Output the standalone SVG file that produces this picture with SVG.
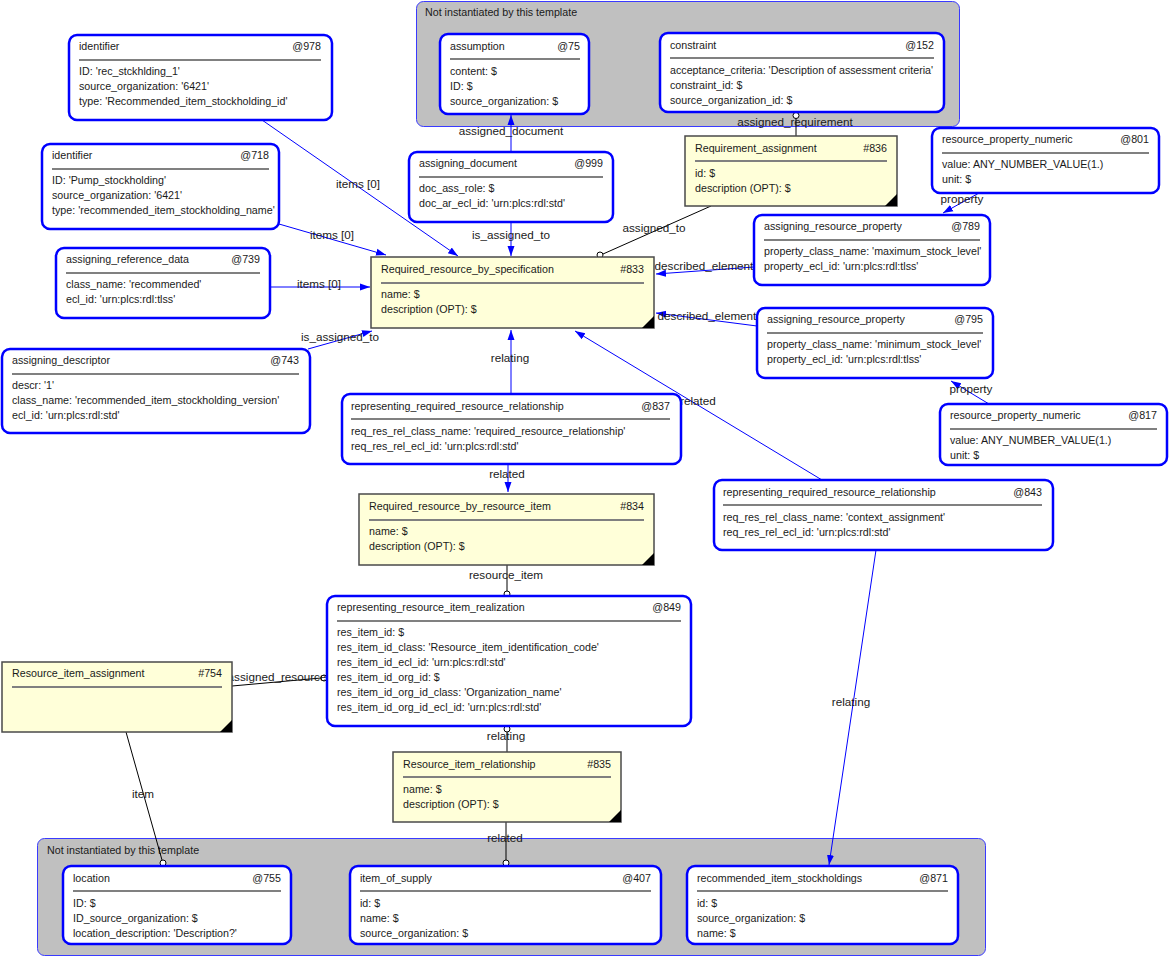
<svg xmlns="http://www.w3.org/2000/svg" width="1169" height="957" viewBox="0 0 1169 957">
<style>
text{font-family:"Liberation Sans",Arial,sans-serif;font-size:10.7px;fill:#1a1a1a}
.lbl{font-size:11.7px;text-anchor:middle}
.r{text-anchor:end}
.grp{fill:#c0c0c0;stroke:#3a3aff;stroke-width:1}
.bn{fill:#fff;stroke:#0000ff;stroke-width:2.5}
.yn{fill:#ffffd9;stroke:#4a4a4a;stroke-width:1.5}
.sep{stroke:#808080;stroke-width:2}
.tri{fill:#000}
.bl{stroke:#0000ff;stroke-width:1;fill:none}
.kl{stroke:#000;stroke-width:1;fill:none}
.circ{fill:#fff;stroke:#000;stroke-width:1}
</style>
<defs>
<marker id="arr" viewBox="0 0 10 10" refX="10" refY="5" markerWidth="10" markerHeight="10" markerUnits="userSpaceOnUse" orient="auto">
<path d="M0,1.5 L10,5 L0,8.5 z" fill="#0000ff"/>
</marker>
</defs>

<g id="group-top">
<rect class="grp" x="416.5" y="1.5" width="543" height="125" rx="7"/>
<text x="425" y="16">Not instantiated by this template</text>
</g>
<g id="group-bottom">
<rect class="grp" x="37.5" y="838.5" width="948" height="117" rx="7"/>
<text x="47" y="854">Not instantiated by this template</text>
</g>

<g id="connectors">
<line class="bl" x1="262" y1="120" x2="458" y2="256" marker-end="url(#arr)"/>
<line class="bl" x1="279" y1="224" x2="386" y2="255" marker-end="url(#arr)"/>
<line class="bl" x1="270" y1="287" x2="370" y2="287" marker-end="url(#arr)"/>
<line class="bl" x1="308" y1="349" x2="372" y2="331" marker-end="url(#arr)"/>
<line class="bl" x1="511" y1="152" x2="511" y2="115" marker-end="url(#arr)"/>
<line class="bl" x1="511" y1="222" x2="511" y2="256" marker-end="url(#arr)"/>
<line class="kl" x1="711" y1="206" x2="603" y2="254"/>
<circle class="circ" cx="600" cy="255" r="3"/>
<line class="kl" x1="796" y1="136" x2="796" y2="118"/>
<circle class="circ" cx="796" cy="115.5" r="3"/>
<line class="bl" x1="754" y1="267" x2="656" y2="274" marker-end="url(#arr)"/>
<line class="bl" x1="757" y1="326" x2="656" y2="313" marker-end="url(#arr)"/>
<line class="bl" x1="979" y1="193" x2="943" y2="213" marker-end="url(#arr)"/>
<line class="bl" x1="989" y1="404" x2="951" y2="381" marker-end="url(#arr)"/>
<line class="bl" x1="511" y1="394" x2="511" y2="330" marker-end="url(#arr)"/>
<line class="bl" x1="508" y1="464" x2="508" y2="492" marker-end="url(#arr)"/>
<line class="bl" x1="822" y1="480" x2="575" y2="331" marker-end="url(#arr)"/>
<line class="bl" x1="876" y1="550" x2="829" y2="865" marker-end="url(#arr)"/>
<line class="kl" x1="507" y1="565" x2="507" y2="591"/>
<circle class="circ" cx="507" cy="594" r="3"/>
<line class="kl" x1="232" y1="686" x2="321" y2="678"/>
<circle class="circ" cx="324" cy="678" r="3"/>
<line class="kl" x1="507" y1="752" x2="507" y2="732"/>
<circle class="circ" cx="507" cy="729" r="3"/>
<line class="kl" x1="506" y1="822" x2="506" y2="860"/>
<circle class="circ" cx="506" cy="863" r="3"/>
<line class="kl" x1="126" y1="732" x2="162" y2="860"/>
<circle class="circ" cx="163" cy="863" r="3"/>
<text class="lbl" x="358" y="188">items [0]</text>
<text class="lbl" x="332" y="239">items [0]</text>
<text class="lbl" x="319" y="288">items [0]</text>
<text class="lbl" x="340" y="341">is_assigned_to</text>
<text class="lbl" x="511" y="135">assigned_document</text>
<text class="lbl" x="511" y="239">is_assigned_to</text>
<text class="lbl" x="654" y="232">assigned_to</text>
<text class="lbl" x="795" y="126">assigned_requirement</text>
<text class="lbl" x="704" y="270">described_element</text>
<text class="lbl" x="707" y="320">described_element</text>
<text class="lbl" x="962" y="203">property</text>
<text class="lbl" x="971" y="393">property</text>
<text class="lbl" x="510" y="362">relating</text>
<text class="lbl" x="507" y="478">related</text>
<text class="lbl" x="698" y="405">related</text>
<text class="lbl" x="851" y="706">relating</text>
<text class="lbl" x="506" y="579">resource_item</text>
<text class="lbl" x="277" y="681">assigned_resource</text>
<text class="lbl" x="506" y="740">relating</text>
<text class="lbl" x="505" y="842">related</text>
<text class="lbl" x="143" y="798">item</text>
</g>

<g id="n75">
<rect class="bn" x="440" y="34" width="149" height="80" rx="8"/>
<text x="450" y="50">assumption</text><text class="r" x="580" y="50">@75</text>
<line class="sep" x1="450" y1="59" x2="580" y2="59"/>
<text x="450" y="75">content: $</text>
<text x="450" y="90">ID: $</text>
<text x="450" y="105">source_organization: $</text>
</g>
<g id="n152">
<rect class="bn" x="660" y="33" width="284" height="79" rx="8"/>
<text x="670" y="49">constraint</text><text class="r" x="934" y="49">@152</text>
<line class="sep" x1="670" y1="58" x2="934" y2="58"/>
<text x="670" y="74">acceptance_criteria: 'Description of assessment criteria'</text>
<text x="670" y="89">constraint_id: $</text>
<text x="670" y="104">source_organization_id: $</text>
</g>
<g id="n978">
<rect class="bn" x="69" y="35" width="263" height="85" rx="8"/>
<text x="79" y="50">identifier</text><text class="r" x="321" y="50">@978</text>
<line class="sep" x1="79" y1="60" x2="321" y2="60"/>
<text x="79" y="75">ID: 'rec_stckhlding_1'</text>
<text x="79" y="90">source_organization: '6421'</text>
<text x="79" y="105">type: 'Recommended_item_stockholding_id'</text>
</g>
<g id="n718">
<rect class="bn" x="42" y="144" width="237" height="85" rx="8"/>
<text x="52" y="159">identifier</text><text class="r" x="269" y="159">@718</text>
<line class="sep" x1="52" y1="169" x2="269" y2="169"/>
<text x="52" y="184">ID: 'Pump_stockholding'</text>
<text x="52" y="199">source_organization: '6421'</text>
<text x="52" y="214">type: 'recommended_item_stockholding_name'</text>
</g>
<g id="n739">
<rect class="bn" x="56" y="248" width="214" height="70" rx="8"/>
<text x="66" y="263">assigning_reference_data</text><text class="r" x="260" y="263">@739</text>
<line class="sep" x1="66" y1="273" x2="260" y2="273"/>
<text x="66" y="288">class_name: 'recommended'</text>
<text x="66" y="303">ecl_id: 'urn:plcs:rdl:tlss'</text>
</g>
<g id="n743">
<rect class="bn" x="2" y="349" width="308" height="84" rx="8"/>
<text x="12" y="364">assigning_descriptor</text><text class="r" x="299" y="364">@743</text>
<line class="sep" x1="12" y1="374" x2="299" y2="374"/>
<text x="12" y="389">descr: '1'</text>
<text x="12" y="404">class_name: 'recommended_item_stockholding_version'</text>
<text x="12" y="419">ecl_id: 'urn:plcs:rdl:std'</text>
</g>
<g id="n999">
<rect class="bn" x="409" y="152" width="204" height="70" rx="8"/>
<text x="419" y="167">assigning_document</text><text class="r" x="603" y="167">@999</text>
<line class="sep" x1="419" y1="177" x2="603" y2="177"/>
<text x="419" y="192">doc_ass_role: $</text>
<text x="419" y="207">doc_ar_ecl_id: 'urn:plcs:rdl:std'</text>
</g>
<g id="n836">
<rect class="yn" x="685" y="136" width="212" height="70"/>
<text x="695" y="152">Requirement_assignment</text><text class="r" x="887" y="152">#836</text>
<line class="sep" x1="695" y1="161" x2="887" y2="161"/>
<text x="695" y="177">id: $</text>
<text x="695" y="192">description (OPT): $</text>
<polygon class="tri" points="897,194 897,206 885,206"/>
</g>
<g id="n801">
<rect class="bn" x="932" y="128" width="227" height="65" rx="8"/>
<text x="942" y="143">resource_property_numeric</text><text class="r" x="1149" y="143">@801</text>
<line class="sep" x1="942" y1="153" x2="1149" y2="153"/>
<text x="942" y="168">value: ANY_NUMBER_VALUE(1.)</text>
<text x="942" y="183">unit: $</text>
</g>
<g id="n789">
<rect class="bn" x="754" y="215" width="236" height="70" rx="8"/>
<text x="764" y="230">assigning_resource_property</text><text class="r" x="980" y="230">@789</text>
<line class="sep" x1="764" y1="240" x2="980" y2="240"/>
<text x="764" y="255">property_class_name: 'maximum_stock_level'</text>
<text x="764" y="270">property_ecl_id: 'urn:plcs:rdl:tlss'</text>
</g>
<g id="n833">
<rect class="yn" x="371" y="257" width="283" height="71"/>
<text x="381" y="273">Required_resource_by_specification</text><text class="r" x="644" y="273">#833</text>
<line class="sep" x1="381" y1="283" x2="644" y2="283"/>
<text x="381" y="298">name: $</text>
<text x="381" y="313">description (OPT): $</text>
<polygon class="tri" points="654,316 654,328 642,328"/>
</g>
<g id="n795">
<rect class="bn" x="757" y="308" width="236" height="70" rx="8"/>
<text x="767" y="323">assigning_resource_property</text><text class="r" x="983" y="323">@795</text>
<line class="sep" x1="767" y1="333" x2="983" y2="333"/>
<text x="767" y="348">property_class_name: 'minimum_stock_level'</text>
<text x="767" y="363">property_ecl_id: 'urn:plcs:rdl:tlss'</text>
</g>
<g id="n817">
<rect class="bn" x="940" y="404" width="227" height="61" rx="8"/>
<text x="950" y="419">resource_property_numeric</text><text class="r" x="1157" y="419">@817</text>
<line class="sep" x1="950" y1="429" x2="1157" y2="429"/>
<text x="950" y="444">value: ANY_NUMBER_VALUE(1.)</text>
<text x="950" y="459">unit: $</text>
</g>
<g id="n837">
<rect class="bn" x="342" y="394" width="339" height="70" rx="8"/>
<text x="351" y="410">representing_required_resource_relationship</text><text class="r" x="670" y="410">@837</text>
<line class="sep" x1="351" y1="419" x2="670" y2="419"/>
<text x="351" y="435">req_res_rel_class_name: 'required_resource_relationship'</text>
<text x="351" y="450">req_res_rel_ecl_id: 'urn:plcs:rdl:std'</text>
</g>
<g id="n834">
<rect class="yn" x="359" y="494" width="295" height="71"/>
<text x="369" y="510">Required_resource_by_resource_item</text><text class="r" x="644" y="510">#834</text>
<line class="sep" x1="369" y1="520" x2="644" y2="520"/>
<text x="369" y="535">name: $</text>
<text x="369" y="550">description (OPT): $</text>
<polygon class="tri" points="654,553 654,565 642,565"/>
</g>
<g id="n843">
<rect class="bn" x="714" y="480" width="339" height="70" rx="8"/>
<text x="723" y="496">representing_required_resource_relationship</text><text class="r" x="1042" y="496">@843</text>
<line class="sep" x1="723" y1="505" x2="1042" y2="505"/>
<text x="723" y="521">req_res_rel_class_name: 'context_assignment'</text>
<text x="723" y="536">req_res_rel_ecl_id: 'urn:plcs:rdl:std'</text>
</g>
<g id="n849">
<rect class="bn" x="327" y="596" width="364" height="130" rx="8"/>
<text x="337" y="611">representing_resource_item_realization</text><text class="r" x="681" y="611">@849</text>
<line class="sep" x1="337" y1="621" x2="681" y2="621"/>
<text x="337" y="636">res_item_id: $</text>
<text x="337" y="651">res_item_id_class: 'Resource_item_identification_code'</text>
<text x="337" y="666">res_item_id_ecl_id: 'urn:plcs:rdl:std'</text>
<text x="337" y="681">res_item_id_org_id: $</text>
<text x="337" y="696">res_item_id_org_id_class: 'Organization_name'</text>
<text x="337" y="711">res_item_id_org_id_ecl_id: 'urn:plcs:rdl:std'</text>
</g>
<g id="n754">
<rect class="yn" x="2" y="662" width="230" height="70"/>
<text x="12" y="677">Resource_item_assignment</text><text class="r" x="222" y="677">#754</text>
<line class="sep" x1="12" y1="687" x2="222" y2="687"/>
<polygon class="tri" points="232,720 232,732 220,732"/>
</g>
<g id="n835">
<rect class="yn" x="393" y="752" width="228" height="70"/>
<text x="403" y="768">Resource_item_relationship</text><text class="r" x="611" y="768">#835</text>
<line class="sep" x1="403" y1="777" x2="611" y2="777"/>
<text x="403" y="793">name: $</text>
<text x="403" y="808">description (OPT): $</text>
<polygon class="tri" points="621,810 621,822 609,822"/>
</g>
<g id="n755">
<rect class="bn" x="63" y="866" width="228" height="78" rx="8"/>
<text x="73" y="882">location</text><text class="r" x="281" y="882">@755</text>
<line class="sep" x1="73" y1="891" x2="281" y2="891"/>
<text x="73" y="907">ID: $</text>
<text x="73" y="922">ID_source_organization: $</text>
<text x="73" y="937">location_description: 'Description?'</text>
</g>
<g id="n407">
<rect class="bn" x="350" y="866" width="311" height="78" rx="8"/>
<text x="360" y="882">item_of_supply</text><text class="r" x="651" y="882">@407</text>
<line class="sep" x1="360" y1="891" x2="651" y2="891"/>
<text x="360" y="907">id: $</text>
<text x="360" y="922">name: $</text>
<text x="360" y="937">source_organization: $</text>
</g>
<g id="n871">
<rect class="bn" x="687" y="866" width="271" height="78" rx="8"/>
<text x="697" y="882">recommended_item_stockholdings</text><text class="r" x="948" y="882">@871</text>
<line class="sep" x1="697" y1="891" x2="948" y2="891"/>
<text x="697" y="907">id: $</text>
<text x="697" y="922">source_organization: $</text>
<text x="697" y="937">name: $</text>
</g>
</svg>
